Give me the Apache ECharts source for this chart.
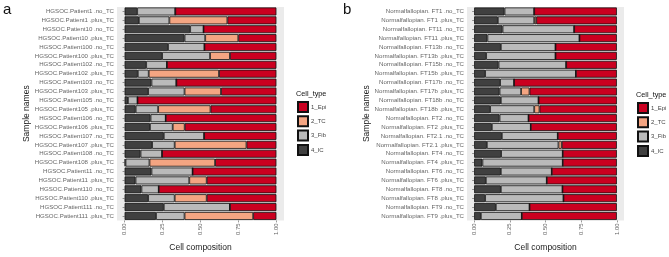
<!DOCTYPE html>
<html>
<head>
<meta charset="utf-8">
<script src="https://cdn.jsdelivr.net/npm/echarts@6/dist/echarts.min.js"></script>
<style>
  html, body { margin: 0; padding: 0; background: #fff; }
  #main { width: 669px; height: 257px; }
</style>
</head>
<body>
<div id="main"></div>
<script>
// panel a: tumour samples
var samplesA = [
  'HGSOC.Patient1 .no_TC', 'HGSOC.Patient1 .plus_TC',
  'HGSOC.Patient10 .no_TC', 'HGSOC.Patient10 .plus_TC',
  'HGSOC.Patient100 .no_TC', 'HGSOC.Patient100 .plus_TC',
  'HGSOC.Patient102 .no_TC', 'HGSOC.Patient102 .plus_TC',
  'HGSOC.Patient103 .no_TC', 'HGSOC.Patient103 .plus_TC',
  'HGSOC.Patient105 .no_TC', 'HGSOC.Patient105 .plus_TC',
  'HGSOC.Patient106 .no_TC', 'HGSOC.Patient106 .plus_TC',
  'HGSOC.Patient107 .no_TC', 'HGSOC.Patient107 .plus_TC',
  'HGSOC.Patient108 .no_TC', 'HGSOC.Patient108 .plus_TC',
  'HGSOC.Patient11 .no_TC', 'HGSOC.Patient11 .plus_TC',
  'HGSOC.Patient110 .no_TC', 'HGSOC.Patient110 .plus_TC',
  'HGSOC.Patient111 .no_TC', 'HGSOC.Patient111 .plus_TC'
];
var icA  = [0.083, 0.094, 0.432, 0.395, 0.286, 0.247, 0.142, 0.087, 0.177, 0.155, 0.022, 0.073,
            0.171, 0.167, 0.258, 0.181, 0.105, 0.006, 0.177, 0.072, 0.111, 0.155, 0.258, 0.207];
var fibA = [0.251, 0.201, 0.088, 0.136, 0.240, 0.316, 0.137, 0.072, 0.164, 0.240, 0.063, 0.148,
            0.100, 0.150, 0.266, 0.149, 0.142, 0.158, 0.271, 0.354, 0.114, 0.175, 0.436, 0.188];
var tcA  = [0, 0.382, 0, 0.218, 0, 0.131, 0, 0.463, 0, 0.240, 0, 0.345,
            0, 0.079, 0, 0.473, 0, 0.432, 0, 0.115, 0, 0.211, 0, 0.452];
var epiA = [0.666, 0.323, 0.480, 0.251, 0.474, 0.306, 0.721, 0.378, 0.659, 0.365, 0.915, 0.434,
            0.729, 0.604, 0.476, 0.197, 0.753, 0.404, 0.552, 0.459, 0.775, 0.459, 0.306, 0.153];

// panel b: normal fallopian tube samples
var samplesB = [
  'Normalfallopian. FT1 .no_TC', 'Normalfallopian. FT1 .plus_TC',
  'Normalfallopian. FT11 .no_TC', 'Normalfallopian. FT11 .plus_TC',
  'Normalfallopian. FT13b .no_TC', 'Normalfallopian. FT13b .plus_TC',
  'Normalfallopian. FT15b .no_TC', 'Normalfallopian. FT15b .plus_TC',
  'Normalfallopian. FT17b .no_TC', 'Normalfallopian. FT17b .plus_TC',
  'Normalfallopian. FT18b .no_TC', 'Normalfallopian. FT18b .plus_TC',
  'Normalfallopian. FT2 .no_TC', 'Normalfallopian. FT2 .plus_TC',
  'Normalfallopian. FT2.1 .no_TC', 'Normalfallopian. FT2.1 .plus_TC',
  'Normalfallopian. FT4 .no_TC', 'Normalfallopian. FT4 .plus_TC',
  'Normalfallopian. FT6 .no_TC', 'Normalfallopian. FT6 .plus_TC',
  'Normalfallopian. FT8 .no_TC', 'Normalfallopian. FT8 .plus_TC',
  'Normalfallopian. FT9 .no_TC', 'Normalfallopian. FT9 .plus_TC'
];
var icB  = [0.213, 0.166, 0.199, 0.093, 0.187, 0.084, 0.171, 0.077, 0.182, 0.178, 0.187, 0.112,
            0.178, 0.124, 0.194, 0.089, 0.189, 0.058, 0.187, 0.082, 0.187, 0.077, 0.152, 0.047];
var fibB = [0.208, 0.255, 0.502, 0.645, 0.383, 0.486, 0.474, 0.636, 0.098, 0.151, 0.264, 0.309,
            0.203, 0.273, 0.392, 0.502, 0.432, 0.563, 0.357, 0.427, 0.432, 0.549, 0.236, 0.287];
var tcB  = [0, 0.014, 0, 0, 0, 0, 0, 0, 0, 0.059, 0, 0.037,
            0, 0, 0, 0.023, 0, 0, 0, 0, 0, 0, 0, 0];
var epiB = [0.579, 0.565, 0.299, 0.262, 0.430, 0.430, 0.355, 0.287, 0.720, 0.612, 0.549, 0.542,
            0.619, 0.603, 0.414, 0.386, 0.379, 0.379, 0.456, 0.491, 0.381, 0.374, 0.612, 0.666];

var cellTypes = ['1_Epi', '2_TC', '3_Fib', '4_IC'];
var ticks = [0, 0.25, 0.5, 0.75, 1];

var colors = { '1_Epi': '#CA0020', '2_TC': '#F4A582', '3_Fib': '#BABABA', '4_IC': '#404040' };
var font = 'Liberation Sans, Arial, sans-serif';

function makeSeries(idx, stack, parts) {
  // left to right: IC, Fib, TC, Epi
  return parts.map(function (p) {
    return {
      name: p[0],
      type: 'bar',
      stack: stack,
      xAxisIndex: idx,
      yAxisIndex: idx,
      barCategoryGap: '10%',
      data: p[1],
      itemStyle: { color: colors[p[0]], borderColor: '#111', borderWidth: 0.8 },
      emphasis: { disabled: true }
    };
  });
}

function xAxis(idx) {
  return {
    type: 'value', gridIndex: idx, min: -0.05, max: 1.05,
    name: 'Cell composition', nameLocation: 'middle', nameGap: 20,
    nameTextStyle: { fontSize: 8.5, color: '#222', fontFamily: font },
    axisLine: { show: false },
    axisTick: { show: true, length: 2, customValues: ticks, lineStyle: { color: '#555', width: 0.6 } },
    splitLine: { show: false },
    axisLabel: {
      customValues: ticks, rotate: 90, fontSize: 6, color: '#666', margin: 3, fontFamily: font,
      formatter: function (v) { return v.toFixed(2); }
    }
  };
}

function yAxis(idx, cats, gap) {
  return {
    type: 'category', gridIndex: idx, data: cats, inverse: true,
    name: 'Sample names', nameLocation: 'middle', nameGap: gap,
    nameTextStyle: { fontSize: 8.5, color: '#222', fontFamily: font },
    axisLine: { show: false },
    axisTick: { show: true, length: 2, alignWithLabel: true, lineStyle: { color: '#555', width: 0.6 } },
    axisLabel: { fontSize: 6.1, color: '#666', margin: 3, fontFamily: font, interval: 0 }
  };
}

function legend(left, top) {
  return {
    data: cellTypes, orient: 'vertical', left: left, top: top, padding: 0,
    itemWidth: 10, itemHeight: 10, itemGap: 2.3,
    icon: 'rect',
    textStyle: { fontSize: 6, color: '#444', fontFamily: font, padding: [0, 0, 0, -2] },
    selectedMode: false
  };
}

function label(text, left, top, size) {
  return { text: text, left: left, top: top, padding: 0,
    textStyle: { fontSize: size, fontWeight: 'normal', color: '#111', fontFamily: font } };
}

var option = {
  animation: false,
  backgroundColor: '#fff',
  title: [
    label('a', 3, 2, 15),
    label('b', 343, 2, 15),
    label('Cell_type', 296, 90, 7.3),
    label('Cell_type', 636, 91, 7.3)
  ],
  legend: [legend(297, 101), legend(637, 102)],
  grid: [
    { left: 117, top: 7, width: 167, height: 223, show: true, backgroundColor: '#EBEBEB', borderWidth: 0 },
    { left: 467, top: 7, width: 157, height: 223, show: true, backgroundColor: '#EBEBEB', borderWidth: 0 }
  ],
  xAxis: [xAxis(0), xAxis(1)],
  yAxis: [yAxis(0, samplesA, 73), yAxis(1, samplesB, 93)],
  series: makeSeries(0, 'a', [['4_IC', icA], ['3_Fib', fibA], ['2_TC', tcA], ['1_Epi', epiA]])
    .concat(makeSeries(1, 'b', [['4_IC', icB], ['3_Fib', fibB], ['2_TC', tcB], ['1_Epi', epiB]]))
};

var chart = echarts.init(document.getElementById('main'), null, { renderer: 'canvas' });
chart.setOption(option);
</script>
</body>
</html>
